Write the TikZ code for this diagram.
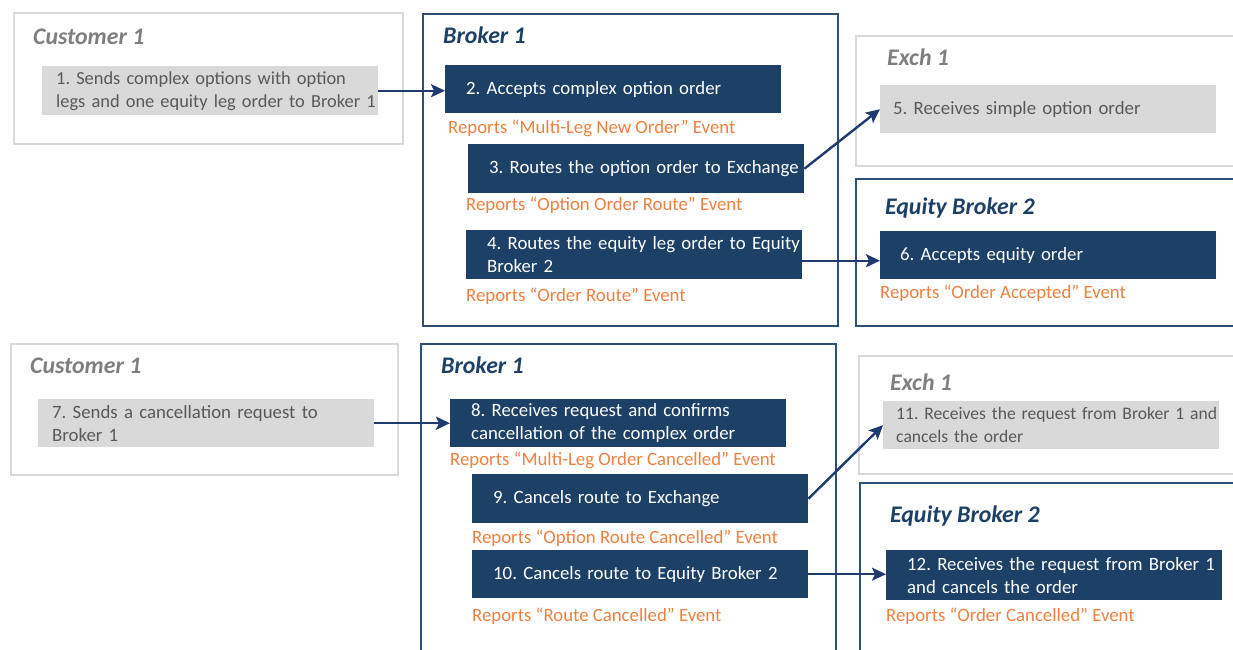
\documentclass[tikz,border=0pt]{standalone}
\usepackage{fontspec}
\setmainfont{Carlito}
\usetikzlibrary{arrows.meta,positioning}
\definecolor{navy}{HTML}{1C4066}
\definecolor{bline}{HTML}{2E5077}
\definecolor{gline}{HTML}{D9D9D9}
\definecolor{gfill}{HTML}{D9D9D9}
\definecolor{gtext}{HTML}{595959}
\definecolor{gtitlec}{HTML}{7F7F7F}
\definecolor{rptc}{HTML}{EE8040}
\definecolor{arrowc}{HTML}{1F3A6E}

\begin{document}
\begin{tikzpicture}[x=1pt, y=-1pt,
  every node/.style={inner sep=0pt, font=\fontsize{18.8}{23}\selectfont\frenchspacing},
  gframe/.style={draw=gline, line width=2pt, anchor=north west},
  bframe/.style={draw=bline, line width=2.2pt, anchor=north west},
  gtitle/.style={anchor=base west, text=gtitlec, font=\fontsize{23.8}{28}\selectfont\bfseries\itshape},
  btitle/.style={gtitle, text=navy},
  stepbox/.style={anchor=north west, text width=336pt, minimum height=48pt, align=left},
  gstep/.style={stepbox, fill=gfill, text=gtext,
    execute at begin node={\leftskip=13pt\rightskip=-40pt plus 1fil}},
  bstep/.style={stepbox, fill=navy, text=white,
    execute at begin node={\leftskip=21pt\rightskip=-40pt plus 1fil}},
  rpt/.style={anchor=base west, text=rptc},
  flowarrow/.style={draw=arrowc, line width=2.4pt, -{Stealth[length=14pt, width=13pt, inset=3pt]}}
]
\useasboundingbox (0,0) rectangle (1233,649);
\clip (0,0) rectangle (1233,649);

% --- new order ---
\node[gframe, minimum width=389pt, minimum height=131pt] (cust1) at (13,12) {};
\node[bframe, minimum width=415pt, minimum height=312pt] (brk1) at (422,13) {};
\node[gframe, minimum width=400pt, minimum height=130pt] (exch1) at (855,35) {};
\node[bframe, minimum width=400pt, minimum height=147pt] (eqb2) at (855,178) {};

\node[gtitle] (tc1) at (33,44) {Customer 1};
\node[btitle] (tb1) at (443,43) {Broker 1};
\node[gtitle] (te1) at (887,65) {Exch 1};
\node[btitle] (tq2) at (885,214) {Equity Broker 2};

\node[gstep, minimum height=49pt, font=\fontsize{18.4}{23}\selectfont\frenchspacing,
  execute at begin node={\leftskip=14pt}] (s1) at (42,66)
  {1. Sends complex options with option\\legs and one equity leg order to Broker 1};
\node[bstep] (s2) at (445,65) {2. Accepts complex option order};
\node[rpt] (r2) at (448,133) {Reports “Multi-Leg New Order” Event};
\node[bstep, minimum height=49pt] (s3) at (468,144) {3. Routes the option order to Exchange};
\node[rpt] (r3) at (466,210) {Reports “Option Order Route” Event};
\node[bstep, minimum height=49pt] (s4) at (466,230) {4. Routes the equity leg order to Equity\\Broker 2};
\node[rpt] (r4) at (466,301) {Reports “Order Route” Event};
\node[gstep] (s5) at (880,85) {5. Receives simple option order};
\node[bstep, execute at begin node={\leftskip=20pt}] (s6) at (880,231) {6. Accepts equity order};
\node[rpt] (r6) at (880,298) {Reports “Order Accepted” Event};

% --- cancel ---
\node[gframe, minimum width=387pt, minimum height=131pt] (cust1b) at (10,343) {};
\node[bframe, minimum width=415pt, minimum height=330pt] (brk1b) at (420,343) {};
\node[gframe, minimum width=400pt, minimum height=118pt] (exch1b) at (858,355) {};
\node[bframe, minimum width=400pt, minimum height=200pt] (eqb2b) at (859,482) {};

\node[gtitle] (tc1b) at (30,373) {Customer 1};
\node[btitle] (tb1b) at (441,373) {Broker 1};
\node[gtitle] (te1b) at (890,390) {Exch 1};
\node[btitle] (tq2b) at (890,522) {Equity Broker 2};

\node[gstep, execute at begin node={\leftskip=14pt}] (s7) at (38,399)
  {7. Sends a cancellation request to\\Broker 1};
\node[bstep] (s8) at (450,399) {8. Receives request and confirms\\cancellation of the complex order};
\node[rpt] (r8) at (450,465) {Reports “Multi-Leg Order Cancelled” Event};
\node[bstep, minimum height=49pt] (s9) at (472,474) {9. Cancels route to Exchange};
\node[rpt] (r9) at (472,543) {Reports “Option Route Cancelled” Event};
\node[bstep] (s10) at (472,550) {10. Cancels route to Equity Broker 2};
\node[rpt] (r10) at (472,621) {Reports “Route Cancelled” Event};
\node[gstep, font=\fontsize{17.6}{23}\selectfont\frenchspacing] (s11) at (883,401)
  {11. Receives the request from Broker 1 and\\cancels the order};
\node[bstep, minimum height=50pt] (s12) at (886,550) {12. Receives the request from Broker 1\\and cancels the order};
\node[rpt] (r12) at (886,621) {Reports “Order Cancelled” Event};

% arrows
\draw[flowarrow] (s1.east) -- (s1.east -| s2.west);
\draw[flowarrow] (s3.east) -- (s5.west);
\draw[flowarrow] ([yshift=-6pt]s4.east) -- ([yshift=-6pt]s4.east -| s6.west);
\draw[flowarrow] (s7.east) -- (s7.east -| s8.west);
\draw[flowarrow] (s9.east) -- (s11.west);
\draw[flowarrow] (s10.east) -- (s10.east -| s12.west);
\end{tikzpicture}
\end{document}
